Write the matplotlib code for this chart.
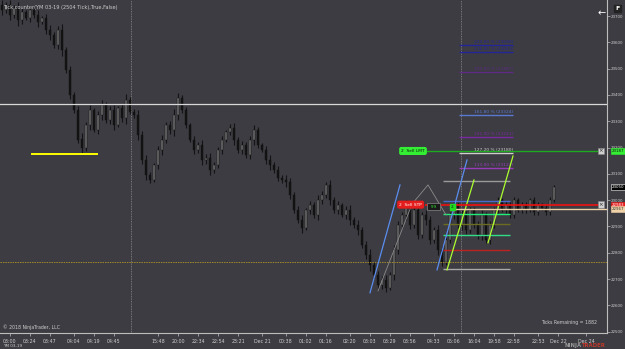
import matplotlib.pyplot as plt
import matplotlib.transforms as mtransforms

# bar closes (open = previous close)
first_open = 23740
closes = [23723, 23742, 23704, 23731, 23685, 23715, 23693, 23723,
          23704, 23677, 23693, 23647,
          23628, 23590, 23647, 23571,
          23495, 23400, 23343, 23230, 23200,
          23286, 23343, 23267, 23324, 23362,
          23305, 23343, 23286, 23351, 23313, 23381, 23336,
          23324, 23248, 23153, 23096, 23077,
          23134, 23191, 23229, 23286, 23267, 23324, 23389,
          23343, 23286, 23229, 23191, 23210, 23153,
          23161, 23115, 23134, 23191, 23229,
          23259, 23275, 23229, 23191,
          23210, 23172, 23229, 23267, 23210,
          23191, 23153, 23134, 23115, 23085, 23077, 23069,
          23020, 22963, 22925, 22895,
          22963, 22982, 22944, 23001, 23020,
          23058, 23001, 22963, 22982, 22944,
          22963, 22925, 22906, 22887, 22830, 22792,
          22754, 22716, 22678, 22697, 22667,
          22716, 22811, 22906, 22944,
          22982, 22906, 22963, 22868, 22944,
          22925, 22849, 22887, 22811, 22765,
          22849, 22944, 22982, 22906, 22944,
          22887, 22963, 22906, 22868, 22944,
          22849, 22906, 22963, 23001, 22963,
          22982, 22944, 23001, 22963, 22982,
          22963, 23001, 22955, 22982, 22971,
          22955, 23001, 23050]
wicks = [20, 12, 18, 10, 22, 14, 9, 16, 12, 20, 8, 15, 18, 10, 14, 22,
         12, 16, 10, 14, 24, 12, 18, 9, 15, 20, 11, 14, 18, 8, 16, 22,
         10, 12, 18, 14, 19, 12, 9, 15, 20, 11, 14, 22, 18, 10, 13, 9,
         16, 12, 20, 14, 18, 10, 12, 15, 9, 13, 18, 11, 16, 10, 14, 20,
         12, 9, 15, 18, 10, 14, 12, 20, 16, 10, 13, 18, 9, 15, 12, 20,
         14, 10, 18, 12, 16, 9, 14, 20, 12, 18, 10, 15, 22, 12, 16, 14,
         18, 10, 20, 14, 12, 18, 16, 10, 14, 12, 20, 16, 10, 18, 14, 12,
         10, 16, 12, 18, 14, 10, 12, 16, 20, 12, 14, 10, 12, 9, 14, 10,
         12, 8, 10, 12, 9, 11, 10, 8, 12, 10, 9]

# y axis
price_ticks = list(range(22500, 23800, 100))

# x axis (bar index, label)
time_ticks = [2, 7, 12, 18, 23, 28, 39, 44, 49, 54, 59, 65, 71, 76,
              81, 87, 92, 97, 102, 108, 113, 118, 123, 128, 134, 139, 146]
time_labels = ["03:00", "03:24", "03:47", "04:04", "04:19", "04:45",
               "15:48", "20:00", "22:34", "22:54", "23:21", "Dec 21",
               "00:38", "01:02", "01:16", "02:20", "03:03", "03:29",
               "03:56", "04:33", "05:06", "16:04", "19:58", "22:58",
               "22:53", "Dec 22", "Dec 24"]
session_breaks = [32.25, 114.75]

# horizontal drawings
white_level = 23366
olive_level = 22765
yellow_level = 23176
yellow_span = (7.25, 24)

# orders / markers on the right
limit_price = 23187
stop_price = 22983
tan_price = 22967
last_price = 23050

# fibonacci extension levels
fib_levels = [23590, 23563, 23487, 23324, 23241, 23180, 23123]
fib_labels = ["224.00 % (23590)", "216.00 % (23563)", "200.00 % (23487)",
              "161.80 % (23324)", "141.00 % (23241)", "127.20 % (23180)",
              "113.00 % (23123)"]
fib_colors = ['#25259a', '#25259a', '#5e2a84', '#5a78d0', '#7a2aa0',
              '#cfcfcf', '#9a3abb']
fib_span = (114.25, 127.75)

# retracement levels
ret_levels = [23073, 22997, 22948, 22910, 22868, 22811, 22739]
ret_colors = ['#9a9a9a', '#4a6acc', '#22ee77', '#6b6b22', '#33dd88',
              '#bb2222', '#a8a8a8']
ret_span = (110.25, 127)

# trend lines (bar0, price0, bar1, price1, color)
trend_lines = [
    (92, 22648, 99.5, 23058, '#5b8def'),
    (108.75, 22735, 116.25, 23153, '#5b8def'),
    (111.25, 22735, 118, 23077, '#adff2f'),
    (121.5, 22838, 127.75, 23168, '#adff2f'),
]
gray_path_x = [94, 102.5, 106.5, 111]
gray_path_y = [22655, 22985, 23058, 22944]

bg = '#3c3c42'
fg = '#cfcfcf'

fig = plt.figure(figsize=(6.25, 3.49), dpi=100, facecolor=bg)
ax = fig.add_axes([0, 16 / 349, 607 / 625, 333 / 349], facecolor=bg)
ax.set_xlim(-0.5, 151.25)
ax.set_ylim(22495, 23761)

# candles
opens = [first_open] + closes[:-1]
for i, (o, c) in enumerate(zip(opens, closes)):
    hi = max(o, c) + wicks[i]
    lo = min(o, c) - wicks[i]
    ax.vlines(i, lo, hi, color='#141414', lw=0.8, zorder=2)
    body_col = '#6e6e6e' if c >= o else '#121212'
    ax.bar(i, abs(c - o) + 1, bottom=min(o, c), width=0.6, color=body_col,
           edgecolor='#121212', lw=0.3, zorder=3)

for b in session_breaks:
    ax.axvline(b, color='#8a8a8a', lw=0.6, ls=(0, (1, 1)), zorder=1)

ax.axhline(white_level, color='#d8d8d8', lw=0.9, zorder=4)
ax.axhline(olive_level, color='#a08a2a', lw=0.7, ls=(0, (1.5, 1)), zorder=4)
ax.hlines(yellow_level, *yellow_span, color='#ffff00', lw=1.4, zorder=4)

for lvl, lab, col in zip(fib_levels, fib_labels, fib_colors):
    ax.hlines(lvl, *fib_span, color=col, lw=1.0, zorder=4)
    ax.text(fib_span[1], lvl + 4, lab, color=col, fontsize=3.2,
            ha='right', va='bottom', zorder=5)

for lvl, col in zip(ret_levels, ret_colors):
    ax.hlines(lvl, *ret_span, color=col, lw=1.0, zorder=4)

for x0, y0, x1, y1, col in trend_lines:
    ax.plot([x0, x1], [y0, y1], color=col, lw=0.9, zorder=5)
ax.plot(gray_path_x, gray_path_y, color='#8c8c8c', lw=0.6, zorder=4)

# order lines
ax.hlines(limit_price, 105.75, 149.5, color='#1faa1f', lw=1.0, zorder=6)
ax.hlines(stop_price, 105.75, 149.5, color='#ee1111', lw=1.2, zorder=6)
ax.hlines(tan_price, 113.25, 151.25, color='#f0d2a8', lw=1.0, zorder=6)
ax.text(99.8, limit_price, "2  Sell LMT", fontsize=3.2, color='#101010',
        va='center', ha='left', zorder=7,
        bbox=dict(boxstyle='round,pad=0.3', fc='#33ee33', ec='#33ee33'))
ax.text(99.3, stop_price, "2  Sell STP", fontsize=3.2, color='white',
        va='center', ha='left', zorder=7,
        bbox=dict(boxstyle='round,pad=0.3', fc='#e51c1c', ec='#e51c1c'))
ax.text(106.5, stop_price - 8, "  99  ", fontsize=3.2, color='#33dd33',
        va='center', ha='left', zorder=7,
        bbox=dict(boxstyle='square,pad=0.3', fc='#1a1a1a', ec='#888888', lw=0.5))
ax.text(112.2, stop_price - 8, "2", fontsize=3.2, color='#101010',
        va='center', ha='left', zorder=7,
        bbox=dict(boxstyle='square,pad=0.25', fc='#22dd22', ec='#22dd22'))
for p in (limit_price, stop_price):
    ax.text(149.7, p, "×", fontsize=4, color='#202020', va='center', ha='center',
            zorder=7, bbox=dict(boxstyle='square,pad=0.15', fc='#cfcfcf',
                                ec='#888888', lw=0.4))

# right price tags
tr = mtransforms.blended_transform_factory(ax.transAxes, ax.transData)
tags = [(limit_price, '#101010', '#33ee33'), (last_price, 'white', '#000000'),
        (stop_price, 'white', '#e51c1c'), (tan_price, '#303030', '#f0d2a8')]
for p, tc, fc in tags:
    ax.text(1.008, p, str(p), transform=tr, fontsize=2.9, color=tc,
            va='center', ha='left', zorder=8, clip_on=False,
            bbox=dict(boxstyle='square,pad=0.2', fc=fc,
                      ec='white' if fc == '#000000' else fc, lw=0.4))

# axes styling
for s in ('top', 'left'):
    ax.spines[s].set_visible(False)
for s in ('right', 'bottom'):
    ax.spines[s].set_color('#bdbdbd')
    ax.spines[s].set_linewidth(0.8)
ax.yaxis.tick_right()
ax.set_yticks(price_ticks)
ax.set_yticklabels([str(p) for p in price_ticks])
ax.set_xticks(time_ticks)
ax.set_xticklabels(time_labels)
ax.tick_params(axis='x', colors='#bdbdbd', labelcolor=fg, labelsize=3.4,
               length=2.5, width=0.5, pad=1.5)
ax.tick_params(axis='y', colors='#bdbdbd', labelcolor=fg, labelsize=2.9,
               length=2, width=0.5, pad=1)

fig.text(0.005, 0.985, "Tick counter(YM 03-19 (2504 Tick),True,False)",
         fontsize=3.6, color=fg, va='top', ha='left')
fig.text(0.005, 0.055, "© 2018 NinjaTrader, LLC", fontsize=3.3, color=fg,
         va='bottom', ha='left')
fig.text(0.955, 0.07, "Ticks Remaining = 1882", fontsize=3.3, color=fg,
         va='bottom', ha='right')
fig.text(0.005, 0.003, "YM 03-19", fontsize=3.0, color=fg, va='bottom', ha='left')
fig.text(0.93, 0.003, "NINJA", fontsize=3.8, color='#9a9a9a', va='bottom',
         ha='right', weight='bold')
fig.text(0.93, 0.003, "TRADER", fontsize=3.8, color='#c0392b', va='bottom',
         ha='left', weight='bold')
fig.text(0.962, 0.975, "←", fontsize=7, color='white', va='top', ha='center')
fig.text(0.988, 0.983, "F", fontsize=4.5, color='white', va='top', ha='center',
         weight='bold', bbox=dict(boxstyle='square,pad=0.2', fc='#222222',
                                  ec='#222222'))

fig.savefig('out.png', dpi=100, facecolor=bg)
